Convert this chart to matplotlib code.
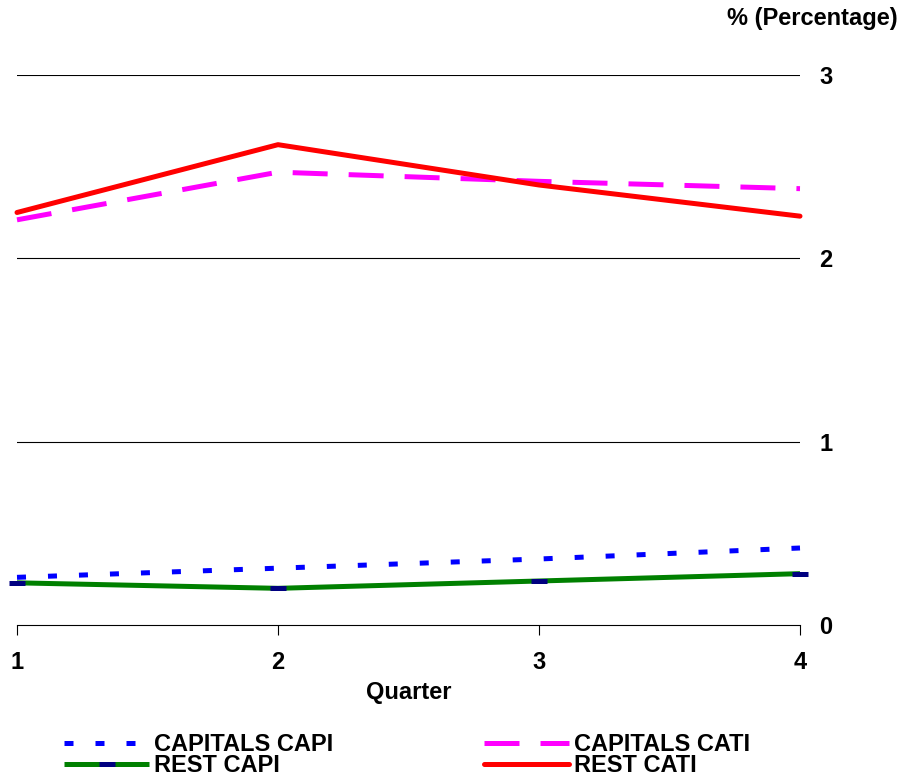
import matplotlib
matplotlib.use("Agg")
import matplotlib.pyplot as plt

plt.rcParams['font.family'] = ['Liberation Sans', 'DejaVu Sans']
plt.rcParams['font.weight'] = 'bold'

# quarterly shares, percent
quarters = [1, 2, 3, 4]
capitals_capi = [0.26, 0.31, 0.36, 0.42]
rest_capi = [0.23, 0.20, 0.24, 0.28]
capitals_cati = [2.21, 2.47, 2.42, 2.38]
rest_cati = [2.25, 2.62, 2.40, 2.23]

fs = 17

fig = plt.figure(figsize=(9.07, 7.81), dpi=100)
ax = fig.add_axes([17/907, 156/781, 783/907, 550/781])

lw = 3.6
ax.plot(quarters, capitals_capi, color='#0000ff', lw=lw, dashes=(1.8, 4.4),
        dash_capstyle='butt', label='CAPITALS CAPI', clip_on=False)
ax.plot(quarters, rest_capi, color='#008000', lw=lw, solid_capstyle='butt',
        marker='_', ms=11, mew=lw, mec='#000080', label='REST CAPI', clip_on=False)
ax.plot(quarters, capitals_cati, color='#ff00ff', lw=lw, dashes=(7, 4.2),
        dash_capstyle='butt', label='CAPITALS CATI', clip_on=False)
ax.plot(quarters, rest_cati, color='#ff0000', lw=lw, solid_capstyle='round',
        label='REST CATI', clip_on=False)

ax.set_xlim(1, 4)
ax.set_ylim(0, 3)
for y in [1, 2, 3]:
    ax.axhline(y, color='black', lw=0.8, zorder=0)

for s in ['top', 'left', 'right']:
    ax.spines[s].set_visible(False)
ax.spines['bottom'].set_linewidth(0.8)

ax.set_xticks(quarters)
ax.tick_params(axis='x', direction='out', length=7, width=0.8, labelsize=fs, pad=12)
ax.yaxis.tick_right()
ax.set_yticks([0, 1, 2, 3])
ax.tick_params(axis='y', length=0, labelsize=fs, pad=14)
for lab in ax.get_xticklabels() + ax.get_yticklabels():
    lab.set_fontweight('bold')

ax.set_xlabel('Quarter', fontsize=fs, fontweight='bold', labelpad=5)
fig.text(898/907, 1 - 19/781, '% (Percentage)', ha='right', va='center',
         fontsize=fs, fontweight='bold')

fig.legend(loc='center', bbox_to_anchor=(0.449, 1 - 755/781), ncol=2,
           frameon=False, handlelength=3.6, handletextpad=0.2,
           columnspacing=6.4, labelspacing=-0.1, borderpad=0,
           prop={'weight': 'bold', 'size': fs})

fig.savefig('out.png', dpi=100)
